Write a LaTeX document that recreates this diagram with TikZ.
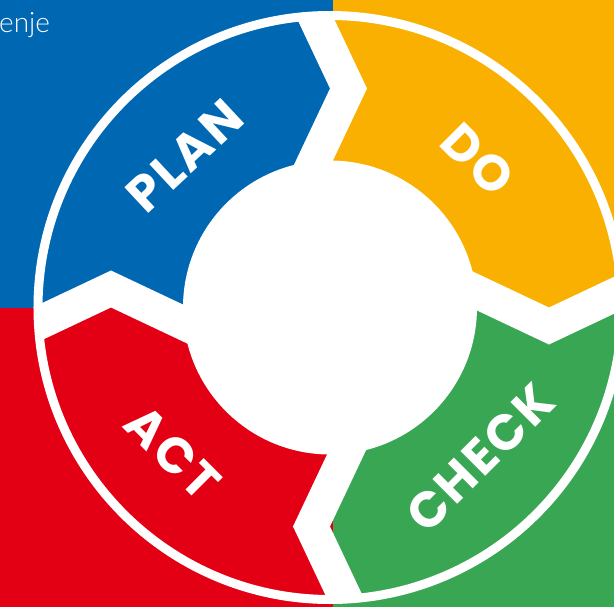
\documentclass[tikz,border=0pt]{standalone}
\usepackage{fontspec}
\setmainfont{Poppins}
\newfontfamily\phasefont{Poppins}[UprightFont=* Bold,LetterSpace=5]
\newfontfamily\captionfont{Lato}[UprightFont=* Light]
\definecolor{PlanBlue}{RGB}{0,103,178}
\definecolor{DoOrange}{RGB}{249,176,0}
\definecolor{CheckGreen}{RGB}{57,166,84}
\definecolor{ActRed}{RGB}{227,0,20}
\newcommand{\drawquadrant}[3]{% Parameters: color, corner x, corner y
  \fill[#1] (3,0) rectangle (#2,#3);
}
\newcommand{\drawgap}[1]{ % Parameter: angle of the gap
  \begin{scope}[rotate=#1]
    \clip (0,0) circle (292);
    \fill[white] (310,43) -- (219,0) -- (128,43) -- ++(0,-37) -- (219,-37) -- (310,6) -- cycle;
  \end{scope}
}
\newcommand{\drawlabel}[5]{ % Parameters: name, x, y, rotation, text
  \node[phase,rotate=#4] (#1) at (#2,#3) {#5};
}
\tikzset{phase/.style={text=white,font=\phasefont\fontsize{50}{50}\selectfont,inner sep=0pt}}

\begin{document}
\begin{tikzpicture}[x=1pt,y=1pt]
    \useasboundingbox (-330,-298.5) rectangle (284,307.5);
    \drawquadrant{PlanBlue}{-340}{310}
    \drawquadrant{DoOrange}{290}{310}
    \drawquadrant{CheckGreen}{290}{-300}
    \drawquadrant{ActRed}{-340}{-300}
    \drawgap{90}
    \drawgap{0}
    \drawgap{-90}
    \drawgap{180}
    \draw[white,line width=9] (0,0) circle (292);
    \fill[white] (0,0) circle (147);
    \drawlabel{plan}{-145}{152}{43}{PLAN}
    \drawlabel{do}{148}{148}{-45}{DO}
    \drawlabel{check}{150}{-150}{45}{CHECK}
    \drawlabel{act}{-157}{-145}{-45}{ACT}
    \node[text=white,font=\captionfont\fontsize{28}{28}\selectfont,anchor=base west,inner sep=0pt] (title) at (-331,275.5) {enje};
  \end{tikzpicture}
\end{document}
